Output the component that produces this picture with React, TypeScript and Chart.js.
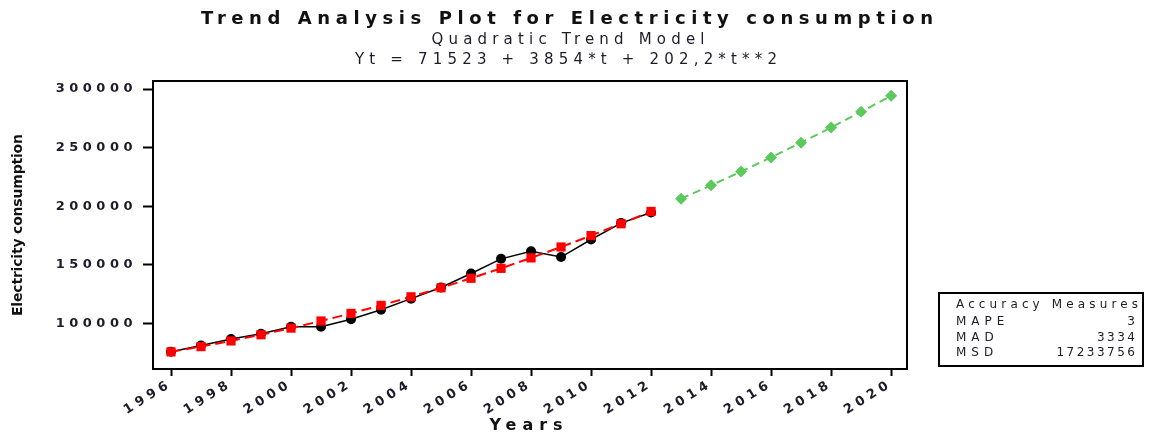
import React, { useEffect, useRef } from 'react';
import { Chart, registerables } from 'chart.js';

Chart.register(...registerables);

const years = [1996, 1997, 1998, 1999, 2000, 2001, 2002, 2003, 2004, 2005, 2006, 2007, 2008, 2009, 2010, 2011, 2012];
const actual = [75700, 81000, 86500, 91000, 97000, 97000, 103500, 111500, 121000, 130500, 142500, 155000, 161500, 156500, 171500, 185500, 194500];
const fits = [75579, 80040, 84905, 90174, 95848, 101926, 108409, 115296, 122587, 130283, 138383, 146888, 155797, 165110, 174828, 184950, 195477];
const forecastYears = [2013, 2014, 2015, 2016, 2017, 2018, 2019, 2020];
const forecasts = [206408, 217743, 229483, 241627, 254176, 267129, 280486, 294248];
const xTicks = [1996, 1998, 2000, 2002, 2004, 2006, 2008, 2010, 2012, 2014, 2016, 2018, 2020];
const yTicks = [100000, 150000, 200000, 250000, 300000];

const titleText = 'Trend Analysis Plot for Electricity consumption';
const subtitleText = 'Quadratic Trend Model';
const equationText = 'Yt = 71523 + 3854*t + 202,2*t**2';
const yAxisTitle = 'Electricity consumption';
const xAxisTitle = 'Years';
const accuracyTitle = 'Accuracy Measures';
const accuracyLabels = ['MAPE', 'MAD', 'MSD'];
const accuracyValues = ['3', '3334', '17233756'];

const FONT = '"DejaVu Sans", sans-serif';
const TEXT_COLOR = '#1c1c28';

function drawSpaced(
  ctx: CanvasRenderingContext2D,
  text: string,
  font: string,
  x: number,
  y: number,
  opts: { spacing?: number; width?: number; align?: 'left' | 'center' | 'right' }
) {
  ctx.font = font;
  (ctx as any).letterSpacing = '0px';
  const w = ctx.measureText(text).width;
  const n = text.length;
  let s = opts.spacing ?? 0;
  if (opts.width !== undefined && n > 1) s = (opts.width - w) / (n - 1);
  const visual = w + (n - 1) * s;
  const align = opts.align ?? 'left';
  const left = align === 'center' ? x - visual / 2 : align === 'right' ? x - visual : x;
  (ctx as any).letterSpacing = s + 'px';
  ctx.textAlign = 'left';
  ctx.textBaseline = 'middle';
  ctx.fillText(text, left, y);
  (ctx as any).letterSpacing = '0px';
}

const decorPlugin = {
  id: 'decor',
  beforeDraw(chart: any) {
    (chart.ctx as any).letterSpacing = '4.5px';
  },
  afterDraw(chart: any) {
    const ctx: CanvasRenderingContext2D = chart.ctx;
    const a = chart.chartArea;
    ctx.save();
    (ctx as any).letterSpacing = '0px';
    // plot frame
    ctx.strokeStyle = '#000';
    ctx.lineWidth = 2;
    ctx.strokeRect(a.left, a.top, a.right - a.left, a.bottom - a.top);

    ctx.fillStyle = '#111';
    drawSpaced(ctx, titleText, 'bold 18px ' + FONT, 567, 19, { width: 732, align: 'center' });
    ctx.fillStyle = TEXT_COLOR;
    drawSpaced(ctx, subtitleText, '15px ' + FONT, 568, 40, { width: 273, align: 'center' });
    drawSpaced(ctx, equationText, '15px ' + FONT, 566, 60, { width: 422, align: 'center' });

    // axis titles
    ctx.fillStyle = '#111';
    drawSpaced(ctx, xAxisTitle, 'bold 16px ' + FONT, (a.left + a.right) / 2 - 4, 426, { width: 73, align: 'center' });
    ctx.save();
    ctx.translate(18, (a.top + a.bottom) / 2);
    ctx.rotate(-Math.PI / 2);
    drawSpaced(ctx, yAxisTitle, 'bold 14px ' + FONT, 0, 0, { width: 182, align: 'center' });
    ctx.restore();

    // accuracy box
    ctx.strokeStyle = '#000';
    ctx.lineWidth = 2;
    ctx.strokeRect(939, 293, 204, 73);
    ctx.fillStyle = TEXT_COLOR;
    drawSpaced(ctx, accuracyTitle, '12px ' + FONT, 956, 305, { width: 182 });
    const rowY = [322, 338, 353];
    accuracyLabels.forEach((lab, i) => {
      drawSpaced(ctx, lab, '12px ' + FONT, 956, rowY[i], { spacing: 5 });
      drawSpaced(ctx, accuracyValues[i], '12px ' + FONT, 1135, rowY[i], { spacing: 2.5, align: 'right' });
    });
    ctx.restore();
  },
};

export default function App() {
  const ref = useRef<HTMLCanvasElement>(null);
  useEffect(() => {
    if (!ref.current) return;
    const chart = new Chart(ref.current, {
      type: 'line',
      data: {
        datasets: [
          {
            label: 'Actual',
            data: years.map((y, i) => ({ x: y, y: actual[i] })),
            borderColor: '#000',
            backgroundColor: '#000',
            borderWidth: 1.5,
            pointStyle: 'circle',
            pointRadius: 5,
            pointBorderWidth: 0,
            order: 2,
          },
          {
            label: 'Fits',
            data: years.map((y, i) => ({ x: y, y: fits[i] })),
            borderColor: '#ff0000',
            backgroundColor: '#ff0000',
            borderWidth: 2,
            borderDash: [10, 5],
            pointStyle: 'rect',
            pointRadius: 6.5,
            pointBorderWidth: 0,
            order: 1,
          },
          {
            label: 'Forecasts',
            data: forecastYears.map((y, i) => ({ x: y, y: forecasts[i] })),
            borderColor: '#5cc95c',
            backgroundColor: '#5cc95c',
            borderWidth: 2,
            borderDash: [8, 5],
            pointStyle: 'rectRot',
            pointRadius: 6,
            pointBorderWidth: 0,
            order: 0,
          },
        ],
      },
      options: {
        animation: false,
        responsive: false,
        maintainAspectRatio: false,
        layout: { padding: { left: 0, right: 245, top: 81, bottom: 0 } },
        plugins: { legend: { display: false }, title: { display: false }, tooltip: { enabled: false } },
        scales: {
          x: {
            type: 'linear',
            min: 1995.4,
            max: 2020.53,
            afterBuildTicks: (scale: any) => {
              scale.ticks = xTicks.map((v) => ({ value: v }));
            },
            afterFit: (scale: any) => {
              scale.height = 67;
            },
            grid: { drawOnChartArea: false, drawTicks: true, tickLength: 7, tickColor: '#000', tickWidth: 2 },
            border: { display: false },
            ticks: {
              autoSkip: false,
              minRotation: 32,
              maxRotation: 32,
              padding: 0,
              color: TEXT_COLOR,
              font: { family: FONT, size: 13, weight: 'bold' },
              callback: (v: any) => String(v),
            },
          },
          y: {
            type: 'linear',
            min: 60940,
            max: 306840,
            afterBuildTicks: (scale: any) => {
              scale.ticks = yTicks.map((v) => ({ value: v }));
            },
            afterFit: (scale: any) => {
              scale.width = 153;
            },
            grid: { drawOnChartArea: false, drawTicks: true, tickLength: 10, tickColor: '#000', tickWidth: 2 },
            border: { display: false },
            ticks: {
              padding: 6,
              color: TEXT_COLOR,
              font: { family: FONT, size: 13, weight: 'bold' },
              callback: (v: any) => String(v),
            },
          },
        },
      },
      plugins: [decorPlugin],
    } as any);
    return () => chart.destroy();
  }, []);
  return (
    <div style={{ position: 'fixed', left: 0, top: 0, width: 1152, height: 436, background: '#fff' }}>
      <canvas ref={ref} width={1152} height={436} style={{ width: 1152, height: 436, display: 'block' }} />
    </div>
  );
}
